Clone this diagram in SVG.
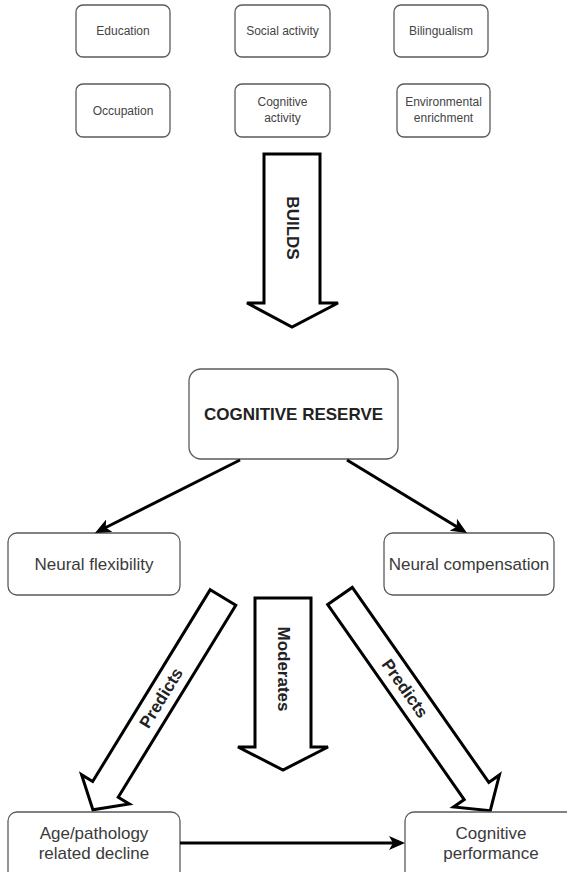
<svg xmlns="http://www.w3.org/2000/svg" width="567" height="872" viewBox="0 0 567 872">
<defs>
<style>
.box{fill:#fff;stroke:#5a5a5a;stroke-width:1.3}
.sm{font-family:"Liberation Sans",Arial,Helvetica,sans-serif;font-size:12px;fill:#444;text-anchor:middle;dominant-baseline:central}
.lg{font-family:"Liberation Sans",Arial,Helvetica,sans-serif;font-size:17px;fill:#3a3a3a;text-anchor:middle;dominant-baseline:central}
.bd{font-family:"Liberation Sans",Arial,Helvetica,sans-serif;font-size:17px;font-weight:bold;fill:#222;text-anchor:middle;dominant-baseline:central}
.blk{fill:#fff;stroke:#000;stroke-width:3;stroke-linejoin:miter}
.con{fill:none;stroke:#000;stroke-width:3}
</style>
<marker id="ah" markerUnits="userSpaceOnUse" markerWidth="16" markerHeight="14" refX="5" refY="7" orient="auto">
<path d="M0,0 L16,7 L0,14 L4,7 z" fill="#000"/>
</marker>
</defs>
<rect width="567" height="872" fill="#fff"/>

<g id="education"><rect class="box" x="76" y="5" width="94" height="52" rx="7"/><text class="sm" x="123" y="31">Education</text></g>
<g id="social-activity"><rect class="box" x="235" y="5" width="95" height="52" rx="7"/><text class="sm" x="282.5" y="31">Social activity</text></g>
<g id="bilingualism"><rect class="box" x="394" y="5" width="94" height="52" rx="7"/><text class="sm" x="441" y="31">Bilingualism</text></g>
<g id="occupation"><rect class="box" x="76" y="84" width="94" height="53" rx="7"/><text class="sm" x="123" y="110.5">Occupation</text></g>
<g id="cognitive-activity"><rect class="box" x="235" y="84" width="95" height="53" rx="7"/><text class="sm" x="282.5" y="102">Cognitive</text><text class="sm" x="282.5" y="118">activity</text></g>
<g id="environmental-enrichment"><rect class="box" x="397" y="84" width="93" height="53" rx="7"/><text class="sm" x="443.5" y="102">Environmental</text><text class="sm" x="443.5" y="118">enrichment</text></g>

<g id="builds">
<polygon class="blk" points="264,154 320,154 320,303 338,303 292,327 247,303 264,303"/>
<text class="bd" transform="translate(292,228) rotate(90)">BUILDS</text>
</g>

<g id="cognitive-reserve"><rect class="box" x="189" y="369" width="209" height="90" rx="12"/><text class="bd" x="293.5" y="414">COGNITIVE RESERVE</text></g>

<g id="neural-flexibility"><rect class="box" x="8" y="533" width="172" height="62" rx="9"/><text class="lg" x="94" y="564">Neural flexibility</text></g>
<g id="neural-compensation"><rect class="box" x="384" y="533" width="170" height="62" rx="9"/><text class="lg" x="469" y="564">Neural compensation</text></g>

<g id="predicts-left">
<g transform="translate(223,597.5) rotate(31.5)">
<polygon class="blk" points="-15,0 15,0 15,225 28,225 0,249 -28,225 -15,225"/>
<text class="bd" transform="translate(0,118) rotate(-90)">Predicts</text>
</g>
</g>

<g id="moderates">
<polygon class="blk" points="255,598 311,598 311,747 328,747 283,770 238,747 255,747"/>
<text class="bd" transform="translate(283,669) rotate(90)">Moderates</text>
</g>

<g id="predicts-right">
<g transform="translate(340,596) rotate(-35)">
<polygon class="blk" points="-15,0 15,0 15,238 28,238 0,262 -28,238 -15,238"/>
<text class="bd" transform="translate(0,113) rotate(90)">Predicts</text>
</g>
</g>

<g id="age-decline"><rect class="box" x="8" y="812" width="172" height="70" rx="9"/><text class="lg" x="94" y="833">Age/pathology</text><text class="lg" x="94" y="853">related decline</text></g>
<g id="cognitive-performance"><rect class="box" x="405" y="812" width="172" height="70" rx="9"/><text class="lg" x="491" y="833">Cognitive</text><text class="lg" x="491" y="853">performance</text></g>

<g id="connectors">
<line class="con" x1="240" y1="460" x2="104.8" y2="528" marker-end="url(#ah)"/>
<line class="con" x1="347" y1="460" x2="457.6" y2="527.3" marker-end="url(#ah)"/>
<line class="con" x1="180" y1="843" x2="394" y2="843" marker-end="url(#ah)"/>
</g>
</svg>
